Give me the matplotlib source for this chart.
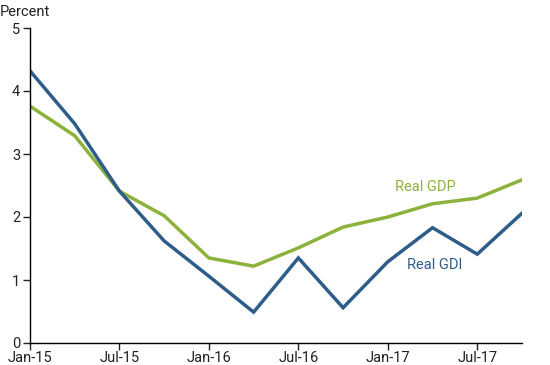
import matplotlib.pyplot as plt

plt.rcParams['font.family'] = ['Roboto', 'DejaVu Sans']

quarters = ["Jan-15", "Apr-15", "Jul-15", "Oct-15", "Jan-16", "Apr-16",
            "Jul-16", "Oct-16", "Jan-17", "Apr-17", "Jul-17", "Oct-17"]
real_gdp = [3.76, 3.29, 2.41, 2.02, 1.35, 1.22, 1.51, 1.84, 2.00, 2.21, 2.30, 2.59]
real_gdi = [4.32, 3.48, 2.41, 1.62, 1.06, 0.49, 1.35, 0.56, 1.29, 1.83, 1.41, 2.06]

blue = '#2f5d8a'
green = '#8cb23b'

fig = plt.figure(figsize=(5.5, 3.65), dpi=100)
ax = fig.add_axes([30 / 550, 22 / 365, 492 / 550, 315 / 365])

x = list(range(len(quarters)))
ax.plot(x, real_gdp, color=green, linewidth=2.5, solid_joinstyle='miter')
ax.plot(x, real_gdi, color=blue, linewidth=2.5, solid_joinstyle='miter')

ax.set_xlim(0, 11)
ax.set_ylim(0, 5)
ax.set_xticks(x[::2])
ax.set_xticklabels(quarters[::2])
ax.set_yticks([0, 1, 2, 3, 4, 5])

for s in ['top', 'right']:
    ax.spines[s].set_visible(False)
for s in ['left', 'bottom']:
    ax.spines[s].set_linewidth(1)
ax.tick_params(direction='out', length=5, width=1, labelsize=10.5, colors='#222222')
ax.tick_params(axis='x', pad=1)
ax.tick_params(axis='y', pad=2)

ax.text(8.85, 2.48, "Real GDP", color=green, fontsize=10.5, ha='center', va='center')
ax.text(9.05, 1.24, "Real GDI", color=blue, fontsize=10.5, ha='center', va='center')
fig.text(0.0, 0.985, "Percent", fontsize=10.5, ha='left', va='top', color='#222222')

fig.savefig("out.png", dpi=100)
